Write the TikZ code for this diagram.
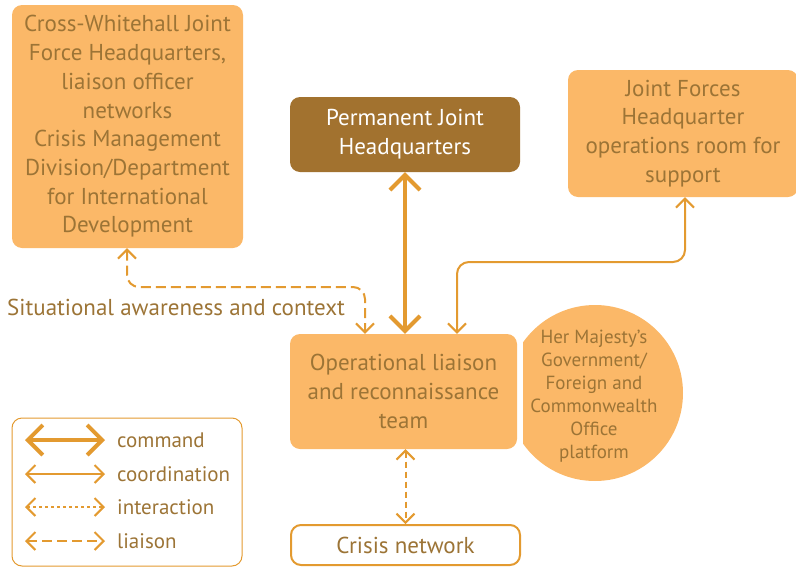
\documentclass[tikz,border=0pt]{standalone}
\usepackage{fontspec}
\setmainfont{PT Sans}
\usetikzlibrary{arrows.meta}
\definecolor{lfill}{HTML}{FBB868}
\definecolor{ltext}{HTML}{9C7436}
\definecolor{lline}{HTML}{E39A30}
\definecolor{dfill}{HTML}{A2722F}
\tikzset{
  box/.style={rectangle, rounded corners=10pt, fill=lfill, text=ltext, align=center,
    font=\fontsize{23}{28.7}\selectfont, inner sep=0pt},
  cmdtip/.style={{Straight Barb[length=15pt,width=30pt]}-{Straight Barb[length=15pt,width=30pt]}},
  cortip/.style={{Straight Barb[length=9pt,width=18pt]}-{Straight Barb[length=9pt,width=18pt]}},
  cmdline/.style={draw=lline, line width=4pt, cmdtip},
  corline/.style={draw=lline, line width=2pt, cortip, rounded corners=12pt},
  intline/.style={draw=lline, line width=2pt, cortip, dash pattern=on 6pt off 4pt},
  lialine/.style={draw=lline, line width=2pt, cortip, dash pattern=on 10pt off 5pt, rounded corners=12pt},
  legtext/.style={text=ltext, anchor=west, font=\fontsize{21}{25}\selectfont, inner sep=0pt}
}
\begin{document}
\begin{tikzpicture}[x=1pt,y=-1pt]
\useasboundingbox (0,0) rectangle (796,568);
% nodes
\node[box, minimum width=231pt, minimum height=243pt] (cw) at (127.5,126.5)
  {Cross-Whitehall Joint\\Force Headquarters,\\liaison officer\\networks\\Crisis Management\\Division/Department\\for International\\Development};
\node[box, fill=dfill, text=white, minimum width=230pt, minimum height=75pt] (pjhq) at (405,134.5)
  {Permanent Joint\\Headquarters};
\node[box, minimum width=230pt, minimum height=127pt] (jfhq) at (683,133.5)
  {Joint Forces\\Headquarter\\operations room for\\support};
\node[circle, fill=lfill, minimum size=176pt, inner sep=0pt] (hmg) at (595,393) {};
\node[text=ltext, align=center, inner sep=0pt, font=\fontsize{19}{23}\selectfont] (hmgt) at (594,396)
  {Her Majesty’s\\Government/\\Foreign and\\Commonwealth\\Office\\platform};
\fill[white] (517,325) rectangle (523,460);
\node[box, minimum width=227pt, minimum height=115pt] (olrt) at (403.5,391.5)
  {Operational liaison\\and reconnaissance\\team};
\node[box, fill=white, draw=lline, line width=2pt, minimum width=229pt, minimum height=40pt] (crisis) at (405.5,545)
  {Crisis network};
\node[text=ltext, font=\fontsize{23}{27}\selectfont, inner sep=0pt, anchor=west] (sit) at (7,307)
  {Situational awareness and context};
% connectors
\coordinate (c1) at (457,262);
\coordinate (c2) at (685,262);
\draw[cmdline] (pjhq.south) -- (pjhq.south |- olrt.north);
\draw[corline] (c1 |- olrt.north) -- (c1) -- (c2) -- (c2 |- jfhq.south);
\coordinate (d1) at (127,287);
\coordinate (d2) at (365,287);
\draw[lialine] (d1 |- cw.south) -- (d1) -- (d2) -- (d2 |- olrt.north);
\draw[intline] (crisis.north |- olrt.south) -- (crisis.north);
% legend
\node[rectangle, rounded corners=10pt, draw=lline, line width=1pt, minimum width=230pt, minimum height=148pt] (leg) at (127,492) {};
\coordinate (la1) at (25,440); \coordinate (lb1) at (105,440);
\coordinate (la2) at (25,474); \coordinate (lb2) at (105,474);
\coordinate (la3) at (25,507); \coordinate (lb3) at (105,507);
\coordinate (la4) at (25,541); \coordinate (lb4) at (105,541);
\draw[cmdline] (la1) -- (lb1);
\draw[corline] (la2) -- (lb2);
\draw[intline, dash pattern=on 3pt off 3pt] (la3) -- (lb3);
\draw[lialine] (la4) -- (lb4);
\node[legtext] (t1) at (117,440) {command};
\node[legtext] (t2) at (117,474) {coordination};
\node[legtext] (t3) at (117,507) {interaction};
\node[legtext] (t4) at (117,541) {liaison};
\end{tikzpicture}
\end{document}
